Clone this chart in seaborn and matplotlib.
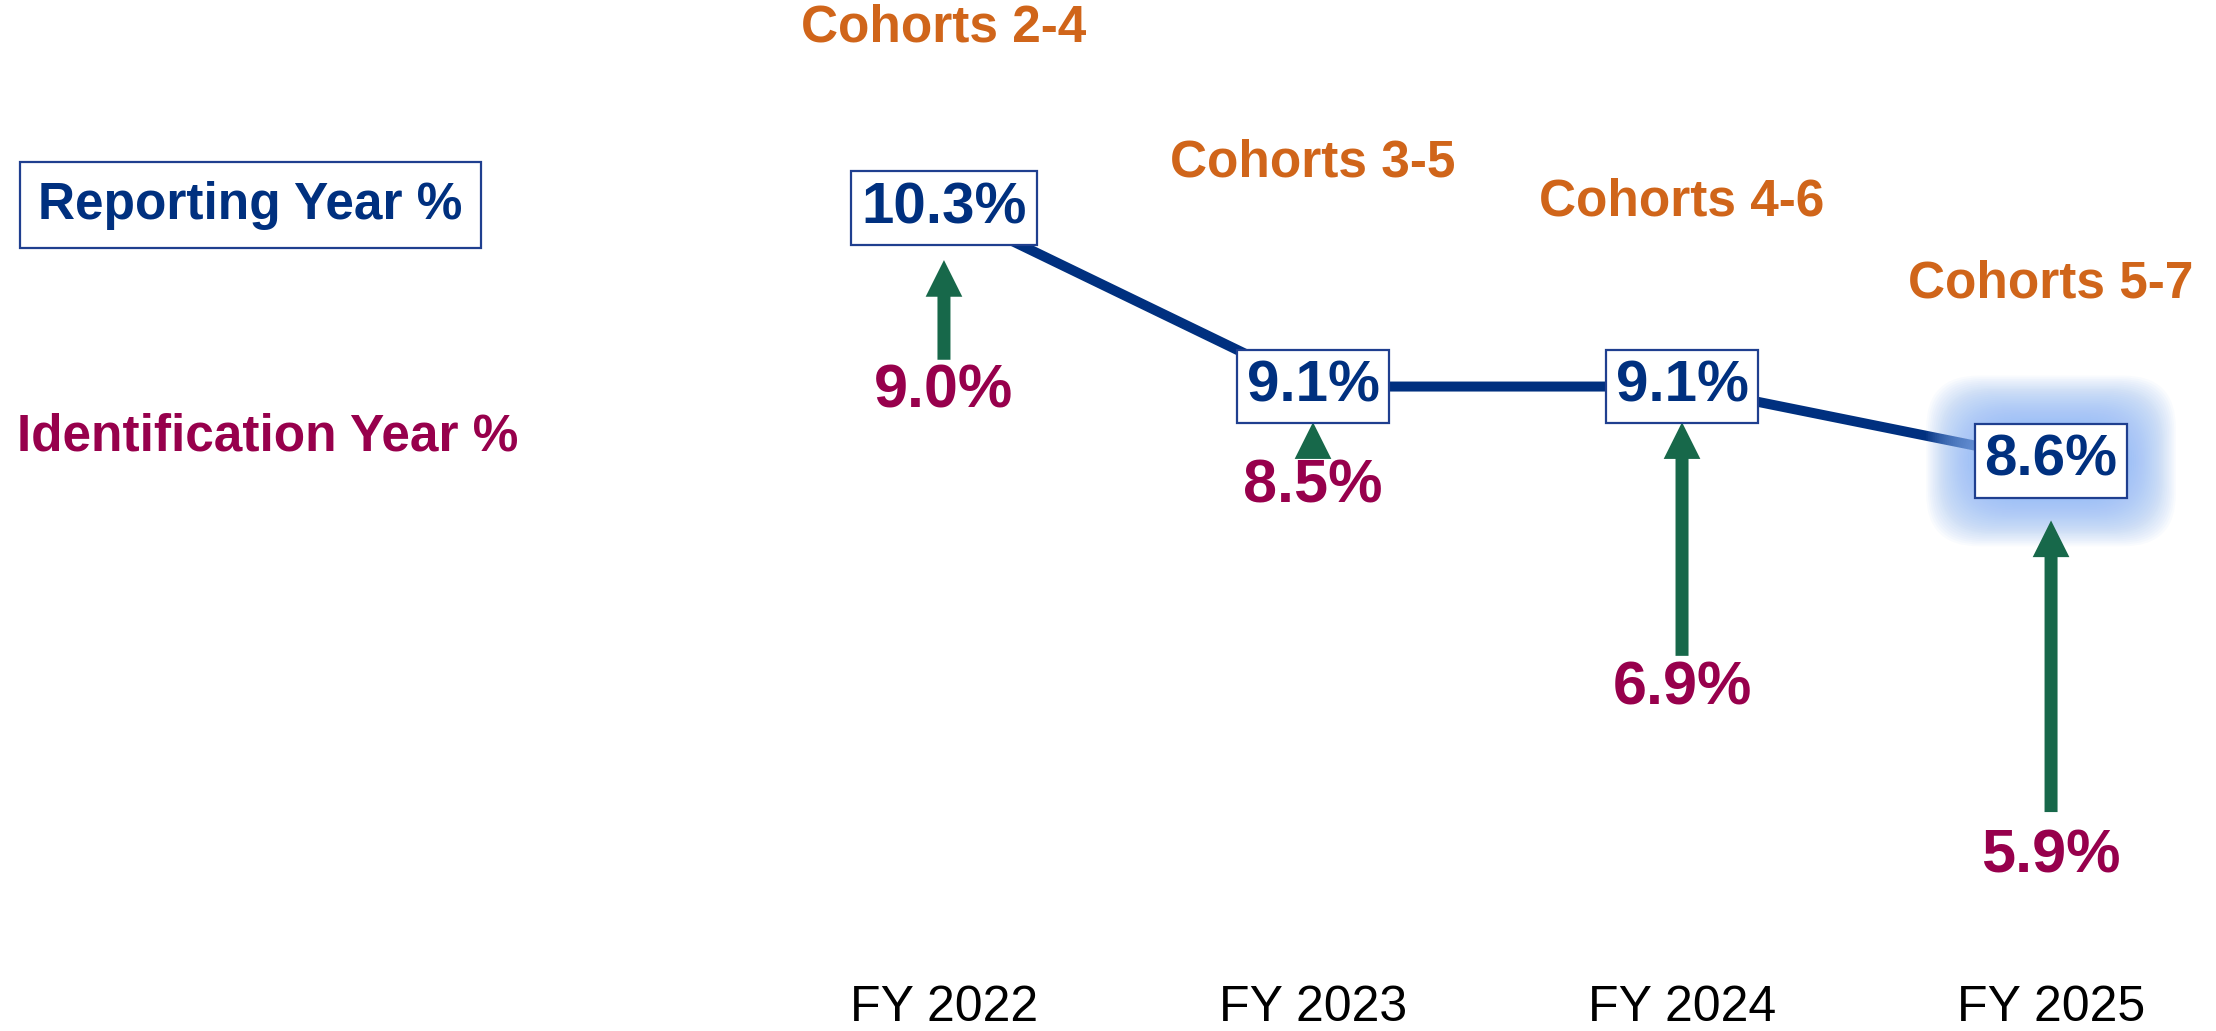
import numpy as np
import pandas as pd
import matplotlib
matplotlib.use("Agg")
import matplotlib.pyplot as plt
import seaborn as sns

# values
years = ["FY 2022", "FY 2023", "FY 2024", "FY 2025"]
reporting_pct = [10.3, 9.1, 9.1, 8.6]
identification_pct = [9.0, 8.5, 6.9, 5.9]
cohorts = ["Cohorts 2-4", "Cohorts 3-5", "Cohorts 4-6", "Cohorts 5-7"]

# layout tweaks (data units above/below the values)
cohort_offsets = [1.21, 1.5, 1.24, 1.19]
tip_gaps = [0.35, 0.24, 0.24, 0.40]
label_shift = [0.06, 0.05, 0.17, 0.04]
base_gaps = [0.22, 0.2, 0.22, 0.3]

NAVY = "#00307F"
MAROON = "#97004C"
ORANGE = "#D0651A"
GREEN = "#17684A"

sns.set_theme(style="white")
plt.rcParams["font.family"] = ["Liberation Sans", "DejaVu Sans"]

df = pd.DataFrame({"pos": np.arange(len(years)), "year": years,
                   "reporting": reporting_pct, "identification": identification_pct})

fig = plt.figure(figsize=(22.16, 10.31), dpi=100)
ax = fig.add_axes([0, 0.0689, 1, 0.9311])

sns.lineplot(data=df, x="pos", y="reporting", color=NAVY, linewidth=7.2,
             sort=False, ax=ax, zorder=2)

ax.set_xlim(-2.558, 3.447)
ax.set_ylim(5.246, 11.698)
ax.set_xticks(df["pos"])
ax.set_xticklabels(years, fontsize=36, color="black")
ax.tick_params(axis="x", length=0, pad=18)
ax.set_yticks([])
ax.set_xlabel("")
ax.set_ylabel("")
for s in ax.spines.values():
    s.set_visible(False)

# soft glow behind the last box
last = len(years) - 1
for p in np.linspace(1.0, 0.15, 30):
    ax.text(df["pos"][last], reporting_pct[last], f"{reporting_pct[last]:.1f}%",
            fontsize=42, fontweight="bold", color="none", ha="center", va="center",
            bbox=dict(boxstyle=f"round,pad={p:.2f},rounding_size=0.9", fc="#8DB6F6",
                      ec="none", alpha=0.05), zorder=3)

head_len = 0.235
for i, row in df.iterrows():
    x = row["pos"]
    rep = row["reporting"]
    idv = row["identification"]
    ax.text(x, rep, f"{rep:.1f}%", fontsize=42, fontweight="bold", color=NAVY,
            ha="center", va="center", zorder=5,
            bbox=dict(boxstyle="square,pad=0.17", fc="white", ec="#1F3F8F", lw=1.6))
    tip = rep - tip_gaps[i]
    label_y = idv + label_shift[i]
    base = label_y + base_gaps[i]
    if base > tip - head_len:
        # arrow too short: draw only the head and push the label down
        base = tip - head_len
        label_y = base - base_gaps[i]
    ax.annotate("", xy=(x, tip), xytext=(x, base), zorder=4,
                arrowprops=dict(arrowstyle="simple,head_length=1.1,head_width=1.1,tail_width=0.39",
                                fc=GREEN, ec=GREEN, lw=0, shrinkA=0, shrinkB=0,
                                mutation_scale=24))
    ax.text(x, label_y, f"{idv:.1f}%", fontsize=44, fontweight="bold", color=MAROON,
            ha="center", va="center", zorder=5)
    ax.text(x, rep + cohort_offsets[i], cohorts[i], fontsize=37, fontweight="bold",
            color=ORANGE, ha="center", va="center", zorder=5)

# left-hand legend labels
ax.text(-2.455, 10.32, "Reporting Year %", fontsize=37, fontweight="bold", color=NAVY,
        ha="left", va="center",
        bbox=dict(boxstyle="square,pad=0.36", fc="white", ec="#1F3F8F", lw=1.6))
ax.text(-2.512, 8.76, "Identification Year %", fontsize=37, fontweight="bold",
        color=MAROON, ha="left", va="center")

fig.savefig("out.png", dpi=100, facecolor="white")
plt.close(fig)
